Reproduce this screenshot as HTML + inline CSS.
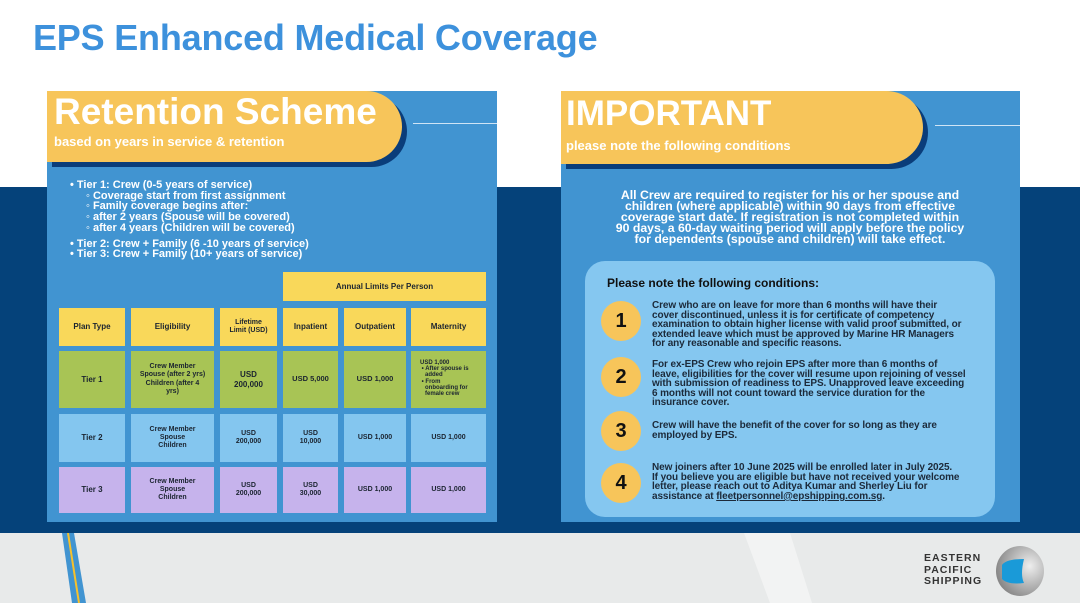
<!DOCTYPE html>
<html><head><meta charset="utf-8"><style>
*{margin:0;padding:0;box-sizing:border-box}
body{width:1080px;height:603px;overflow:hidden;background:#fff;font-family:"Liberation Sans",sans-serif;position:relative}
.abs{position:absolute}
.title{left:33px;top:17px;font-size:36px;font-weight:bold;color:#3d91dc;letter-spacing:-0.2px}
.band{left:0;top:187px;width:1080px;height:346px;background:#05427a}
.grey{left:0;top:533px;width:1080px;height:70px;background:#e8eaea}
.panel{background:#4194d1}
.hdr{background:#f7c55a;border-radius:0 60px 60px 0;box-shadow:5px 5px 0 #0a3d7a}
.cell{position:absolute;display:flex;align-items:center;justify-content:center;text-align:center;font-weight:bold;color:#1b2430;font-size:8px;line-height:1.15}
.y{background:#f9d85a}.g{background:#a8c455}.b{background:#84c6ef}.p{background:#c6b3ec}
.circ{position:absolute;width:40px;height:40px;border-radius:50%;background:#f7c55a;left:601px;font-size:20px;font-weight:bold;color:#111;display:flex;align-items:center;justify-content:center}
.ct{position:absolute;left:652px;font-size:10px;line-height:9.6px;color:#1c2a3a;font-weight:bold;white-space:nowrap;letter-spacing:-0.1px}
</style></head><body>
<div class="abs title">EPS Enhanced Medical Coverage</div>
<div class="abs band"></div>
<div class="abs grey"></div>
<svg class="abs" style="left:0;top:533px" width="1080" height="70">
<polygon points="62,0 74,0 86,70 72,70" fill="#4194d1"/>
<line x1="68" y1="0" x2="79" y2="70" stroke="#f7c12b" stroke-width="2"/>
<polygon points="744,0 790,0 812,70 770,70" fill="#fff" opacity="0.45"/>
</svg>

<!-- left panel -->
<div class="abs panel" style="left:47px;top:91px;width:450px;height:431px"></div>
<div class="abs hdr" style="left:47px;top:91px;width:355px;height:71px"></div>
<div class="abs" style="left:413px;top:123px;width:84px;height:1px;background:#cfe4f5"></div>
<div class="abs" style="left:54px;top:91px;font-size:37px;font-weight:bold;color:#fff">Retention Scheme</div>
<div class="abs" style="left:54px;top:134px;font-size:13px;font-weight:bold;color:#fff">based on years in service &amp; retention</div>
<div class="abs" style="left:70px;top:180px;font-size:11px;line-height:10.7px;color:#fff;font-weight:bold">
• Tier 1: Crew (0-5 years of service)<br>
<span style="padding-left:16px">◦ Coverage start from first assignment</span><br>
<span style="padding-left:16px">◦ Family coverage begins after:</span><br>
<span style="padding-left:16px">◦ after 2 years (Spouse will be covered)</span><br>
<span style="padding-left:16px">◦ after 4 years (Children will be covered)</span><br>
<div style="height:5px"></div>
• Tier 2: Crew + Family (6 -10 years of service)<br>
• Tier 3: Crew + Family (10+ years of service)
</div>
<div class="cell y" style="left:283px;top:272px;width:203px;height:29px">Annual Limits Per Person</div>
<div class="cell y" style="left:59px;top:308px;width:66px;height:38px">Plan Type</div>
<div class="cell y" style="left:131px;top:308px;width:83px;height:38px">Eligibility</div>
<div class="cell y" style="left:220px;top:308px;width:57px;height:38px;font-size:7px">Lifetime<br>Limit (USD)</div>
<div class="cell y" style="left:283px;top:308px;width:55px;height:38px">Inpatient</div>
<div class="cell y" style="left:344px;top:308px;width:62px;height:38px">Outpatient</div>
<div class="cell y" style="left:411px;top:308px;width:75px;height:38px">Maternity</div>

<div class="cell g" style="left:59px;top:351px;width:66px;height:57px">Tier 1</div>
<div class="cell g" style="left:131px;top:351px;width:83px;height:57px;font-size:7px">Crew Member<br>Spouse (after 2 yrs)<br>Children (after 4<br>yrs)</div>
<div class="cell g" style="left:220px;top:351px;width:57px;height:57px">USD<br>200,000</div>
<div class="cell g" style="left:283px;top:351px;width:55px;height:57px;font-size:7.5px">USD 5,000</div>
<div class="cell g" style="left:344px;top:351px;width:62px;height:57px;font-size:7.5px">USD 1,000</div>
<div class="cell g" style="left:411px;top:351px;width:75px;height:57px;font-size:6px;text-align:left;justify-content:flex-start;align-items:flex-start;padding:9px 0 0 9px;line-height:6.2px">USD 1,000<br>&nbsp;• After spouse is<br>&nbsp;&nbsp;&nbsp;added<br>&nbsp;• From<br>&nbsp;&nbsp;&nbsp;onboarding for<br>&nbsp;&nbsp;&nbsp;female crew</div>

<div class="cell b" style="left:59px;top:414px;width:66px;height:48px">Tier 2</div>
<div class="cell b" style="left:131px;top:414px;width:83px;height:48px;font-size:7px">Crew Member<br>Spouse<br>Children</div>
<div class="cell b" style="left:220px;top:414px;width:57px;height:48px;font-size:7px">USD<br>200,000</div>
<div class="cell b" style="left:283px;top:414px;width:55px;height:48px;font-size:7px">USD<br>10,000</div>
<div class="cell b" style="left:344px;top:414px;width:62px;height:48px;font-size:7px">USD 1,000</div>
<div class="cell b" style="left:411px;top:414px;width:75px;height:48px;font-size:7px">USD 1,000</div>

<div class="cell p" style="left:59px;top:467px;width:66px;height:46px">Tier 3</div>
<div class="cell p" style="left:131px;top:467px;width:83px;height:46px;font-size:7px">Crew Member<br>Spouse<br>Children</div>
<div class="cell p" style="left:220px;top:467px;width:57px;height:46px;font-size:7px">USD<br>200,000</div>
<div class="cell p" style="left:283px;top:467px;width:55px;height:46px;font-size:7px">USD<br>30,000</div>
<div class="cell p" style="left:344px;top:467px;width:62px;height:46px;font-size:7px">USD 1,000</div>
<div class="cell p" style="left:411px;top:467px;width:75px;height:46px;font-size:7px">USD 1,000</div>

<!-- right panel -->
<div class="abs panel" style="left:561px;top:91px;width:459px;height:431px"></div>
<div class="abs hdr" style="left:561px;top:91px;width:362px;height:73px"></div>
<div class="abs" style="left:935px;top:125px;width:85px;height:1px;background:#cfe4f5"></div>
<div class="abs" style="left:566px;top:94px;font-size:35px;font-weight:bold;color:#fff">IMPORTANT</div>
<div class="abs" style="left:566px;top:138px;font-size:13px;font-weight:bold;color:#fff">please note the following conditions</div>
<div class="abs" style="left:590px;top:190px;width:400px;text-align:center;font-size:12.3px;line-height:10.9px;font-weight:bold;color:#fff">All Crew are required to register for his or her spouse and<br>children (where applicable) within 90 days from effective<br>coverage start date. If registration is not completed within<br>90 days, a 60-day waiting period will apply before the policy<br>for dependents (spouse and children) will take effect.</div>
<div class="abs" style="left:585px;top:261px;width:410px;height:256px;background:#85c7f0;border-radius:20px"></div>
<div class="abs" style="left:607px;top:276px;font-size:12px;font-weight:bold;color:#111">Please note the following conditions:</div>
<div class="circ" style="top:301px">1</div>
<div class="circ" style="top:357px">2</div>
<div class="circ" style="top:411px">3</div>
<div class="circ" style="top:463px">4</div>
<div class="ct" style="top:301px">Crew who are on leave for more than 6 months will have their<br>cover discontinued, unless it is for certificate of competency<br>examination to obtain higher license with valid proof submitted, or<br>extended leave which must be approved by Marine HR Managers<br>for any reasonable and specific reasons.</div>
<div class="ct" style="top:360px">For ex-EPS Crew who rejoin EPS after more than 6 months of<br>leave, eligibilities for the cover will resume upon rejoining of vessel<br>with submission of readiness to EPS. Unapproved leave exceeding<br>6 months will not count toward the service duration for the<br>insurance cover.</div>
<div class="ct" style="top:421px">Crew will have the benefit of the cover for so long as they are<br>employed by EPS.</div>
<div class="ct" style="top:463px">New joiners after 10 June 2025 will be enrolled later in July 2025.<br>If you believe you are eligible but have not received your welcome<br>letter, please reach out to Aditya Kumar and Sherley Liu for<br>assistance at <u>fleetpersonnel@epshipping.com.sg</u>.</div>

<!-- logo -->
<div class="abs" style="left:924px;top:553px;font-size:10.5px;line-height:11.5px;font-weight:bold;color:#333;letter-spacing:1px">EASTERN<br>PACIFIC<br>SHIPPING</div>
<svg class="abs" style="left:994px;top:545px" width="52" height="52">
<defs><radialGradient id="sg" cx="0.7" cy="0.4" r="0.7"><stop offset="0" stop-color="#eee"/><stop offset="1" stop-color="#888"/></radialGradient></defs>
<ellipse cx="26" cy="26" rx="24" ry="25" fill="url(#sg)"/>
<path d="M8,20 Q12,14 30,14 Q26,30 30,38 Q14,40 8,34 Z" fill="#1a9ad8"/>
</svg>
</body></html>
